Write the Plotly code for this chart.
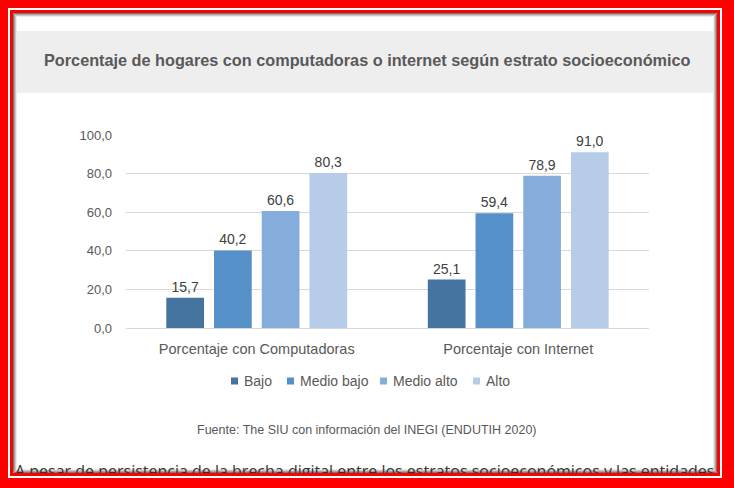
import plotly.graph_objects as go

W, H = 734, 488

categories = ["Porcentaje con Computadoras", "Porcentaje con Internet"]
series_names = ["Bajo", "Medio bajo", "Medio alto", "Alto"]
bajo = [15.7, 25.1]
medio_bajo = [40.2, 59.4]
medio_alto = [60.6, 78.9]
alto = [80.3, 91.0]
series_values = [bajo, medio_bajo, medio_alto, alto]
series_colors = ["#44749f", "#5590c8", "#85addb", "#b7cce8"]
y_ticks = [0, 20, 40, 60, 80, 100]

title_text = "Porcentaje de hogares con computadoras o internet según estrato socioeconómico"
source_text = "Fuente: The SIU con información del INEGI (ENDUTIH 2020)"
body_text = "A pesar de persistencia de la brecha digital entre los estratos socioeconómicos y las entidades"


def px(x):
    return x / W


def py(y):
    return 1 - y / H


fig = go.Figure()
for name, vals, col in zip(series_names, series_values, series_colors):
    fig.add_trace(go.Bar(
        x=categories, y=vals, name=name,
        marker=dict(color=col, line=dict(width=0)),
        texttemplate="%{y:.1f}", textposition="outside",
        textfont=dict(family="Liberation Sans", size=14, color="#404040"),
        cliponaxis=False, hoverinfo="skip", showlegend=False,
    ))

# cut-off body text at the bottom (clipped by its own small axis area)
fig.add_trace(go.Scatter(
    x=[0], y=[-0.02], text=[body_text], mode="text", textposition="middle right",
    textfont=dict(family="Open Sans", size=16, color="#333333"),
    xaxis="x2", yaxis="y2", cliponaxis=True, showlegend=False, hoverinfo="skip",
))

shapes = []


def rect(x0, y0, x1, y1, fill=None, line=None, lw=0):
    d = dict(type="rect", xref="paper", yref="paper",
             x0=px(x0), x1=px(x1), y0=py(y1), y1=py(y0), layer="below")
    d["fillcolor"] = fill if fill else "rgba(0,0,0,0)"
    d["line"] = dict(color=line, width=lw) if line else dict(width=0)
    return d


shapes.append(rect(8, 8, 722, 478, fill="#ffffff"))
shapes.append(rect(10, 10, 720, 476, fill="#ff0000"))
shapes.append(rect(13, 13, 717, 473, fill="#ffffff"))
shapes.append(rect(17, 31, 713, 93, fill="#eeeeee"))
for off, c in [(0.5, "#7a7a7a"), (1.5, "#a3a3a3"), (2.5, "#cbcbcb"), (3.5, "#ebebeb")]:
    shapes.append(rect(13 + off, 13 + off, 717 - off, 473 - off, line=c, lw=1))

annotations = [
    dict(text="<b>" + title_text + "</b>", x=px(367), y=py(60), xref="paper", yref="paper",
         showarrow=False, xanchor="center", yanchor="middle",
         font=dict(family="Liberation Sans", size=16.25, color="#595959")),
    dict(text=source_text, x=px(367), y=py(430), xref="paper", yref="paper",
         showarrow=False, xanchor="center", yanchor="middle",
         font=dict(family="Liberation Sans", size=12.5, color="#595959")),
]

# legend (square swatch + label for each series)
legend_x = [231, 287, 380, 473]
for name, col, lx in zip(series_names, series_colors, legend_x):
    shapes.append(dict(type="rect", xref="paper", yref="paper",
                       x0=px(lx), x1=px(lx + 7), y0=py(384.5), y1=py(377.5),
                       fillcolor=col, line=dict(width=0), layer="above"))
    annotations.append(dict(text=name, x=px(lx + 11), y=py(381), xref="paper", yref="paper",
                            showarrow=False, xanchor="left", yanchor="middle",
                            font=dict(family="Liberation Sans", size=14, color="#595959")))

fig.update_layout(
    width=W, height=H,
    margin=dict(l=0, r=0, t=0, b=0, autoexpand=False),
    paper_bgcolor="#ff0000",
    plot_bgcolor="rgba(0,0,0,0)",
    separators=",.",
    barmode="group",
    bargap=0.27,
    bargroupgap=0.21,
    shapes=shapes,
    annotations=annotations,
    showlegend=False,
    xaxis=dict(domain=[px(126), px(649)], showgrid=False, showline=False, zeroline=False,
               automargin=False,
               tickfont=dict(family="Liberation Sans", size=14.5, color="#595959"),
               ticklabelstandoff=10, fixedrange=True),
    yaxis=dict(domain=[py(328), py(135)], range=[0, 100], tickvals=y_ticks, tickformat=".1f",
               automargin=False,
               showgrid=True, gridcolor="#d9d9d9", gridwidth=1, zeroline=True,
               zerolinecolor="#d9d9d9", zerolinewidth=1, showline=False,
               tickfont=dict(family="Liberation Sans", size=13, color="#595959"),
               ticklabelstandoff=13, fixedrange=True),
    xaxis2=dict(domain=[px(15), px(716)], range=[0, 1], visible=False, anchor="y2",
                automargin=False, fixedrange=True),
    yaxis2=dict(domain=[py(473), py(460)], range=[0, 1], visible=False, anchor="x2",
                automargin=False, fixedrange=True),
)

fig.write_html(
    "out.html",
    config={"displayModeBar": False},
    post_script="document.body.style.margin='0';document.body.style.overflow='hidden';",
)
